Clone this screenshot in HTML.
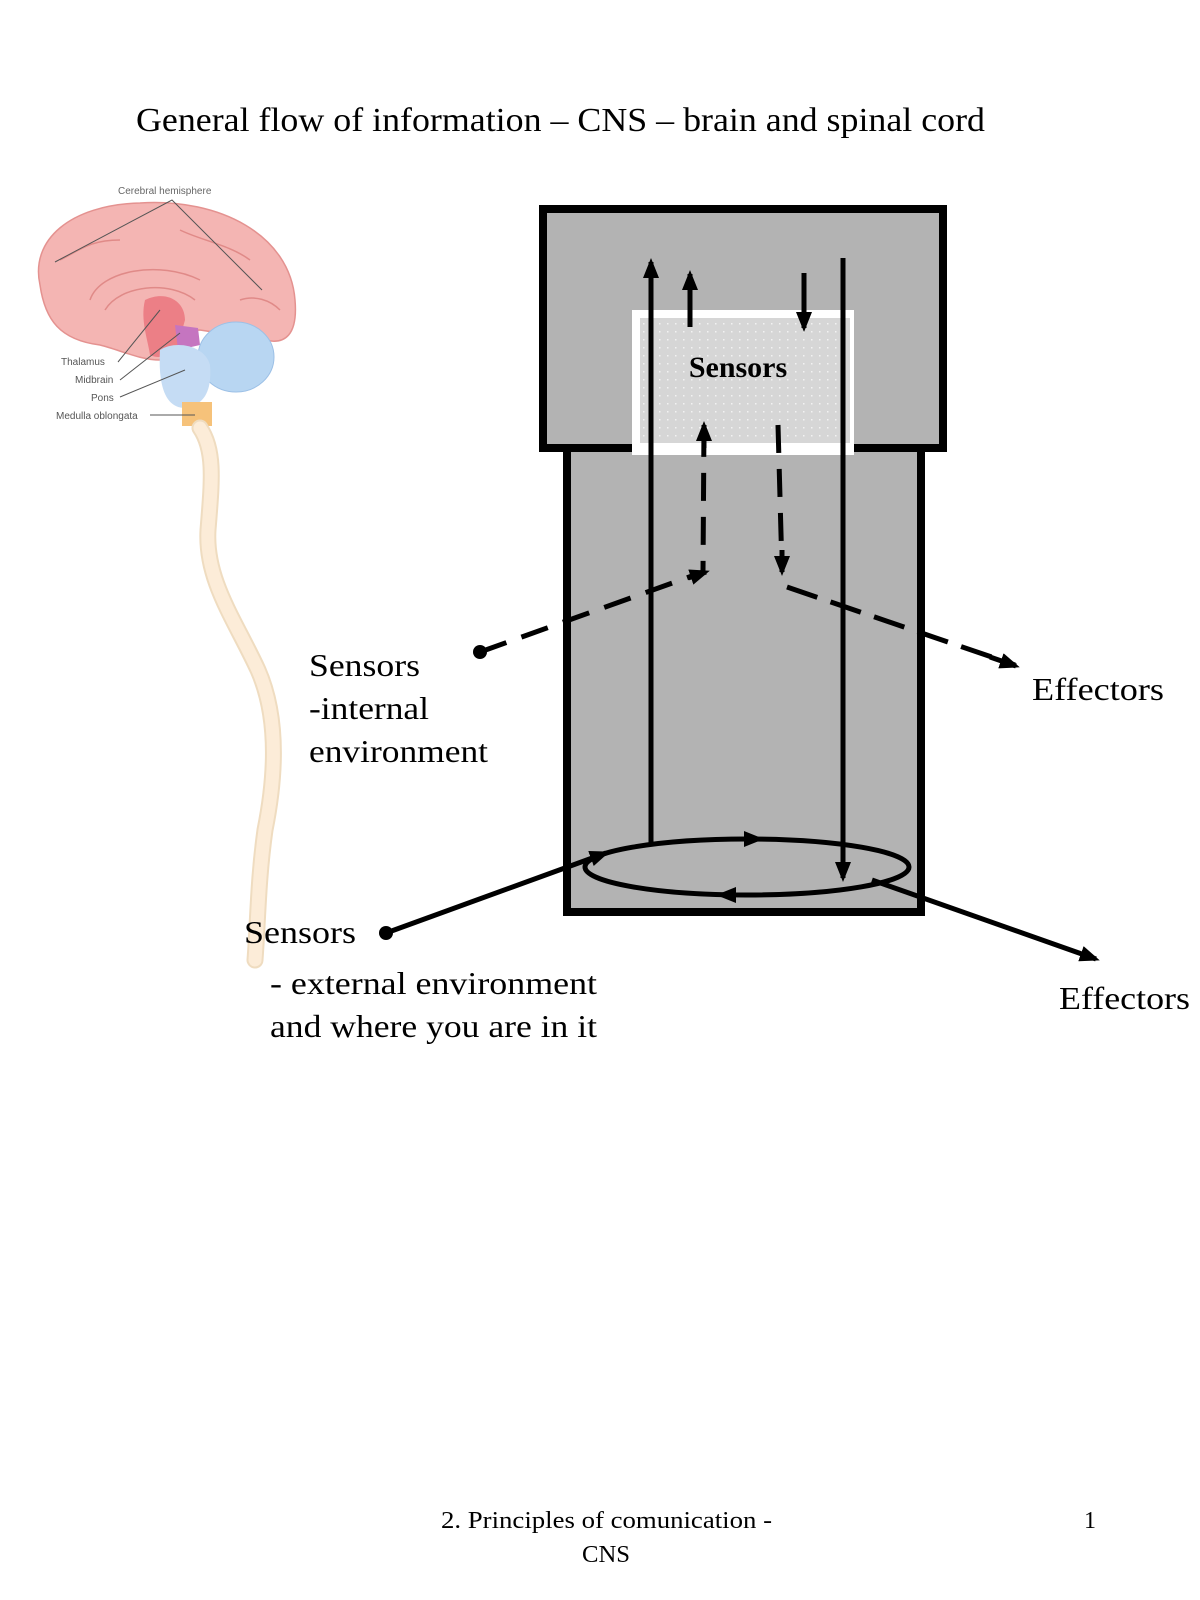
<!DOCTYPE html>
<html><head><meta charset="utf-8"><style>
html,body{margin:0;padding:0;background:#fff;}
svg{display:block;}
text{font-family:"Liberation Serif",serif;fill:#000;}
</style></head><body>
<svg width="1200" height="1600" viewBox="0 0 1200 1600" xmlns="http://www.w3.org/2000/svg">
<defs>
<pattern id="dots" width="8" height="8" patternUnits="userSpaceOnUse">
<rect width="8" height="8" fill="#d6d6d6"/><rect x="3" y="3" width="1.5" height="1.5" fill="#f2f2f2"/>
</pattern>
<marker id="ahb" markerWidth="20" markerHeight="16" refX="16" refY="8" orient="auto" markerUnits="userSpaceOnUse" viewBox="0 0 20 16">
<path d="M0,0 L20,8 L0,16 z" fill="#000"/></marker>
</defs>

<text x="136" y="131" font-size="34" textLength="849" lengthAdjust="spacingAndGlyphs">General flow of information – CNS – brain and spinal cord</text>

<!-- brain -->
<text x="118" y="194" style="font-family:'Liberation Sans',sans-serif;font-size:10px;fill:#666">Cerebral hemisphere</text>
<path d="M40,285 C30,240 70,205 140,203 C220,198 290,235 295,300 C298,335 285,345 265,340 L200,330 C175,330 165,345 160,360 C140,360 120,350 100,345 C60,340 45,320 40,285 z" fill="#f4b5b3" stroke="#e49290" stroke-width="1.5"/>
<path d="M90,300 C100,270 160,260 200,280 M105,310 C120,285 170,280 195,300 M60,260 C80,250 90,240 120,240 M180,230 C200,240 230,245 250,260 M240,300 C255,295 270,300 280,310" stroke="#e08a88" stroke-width="1.5" fill="none"/>
<path d="M145,300 C165,290 185,300 185,320 L178,345 C172,355 160,360 150,355 C148,340 140,320 145,300 z" fill="#ec7f86"/>
<path d="M175,325 L198,328 L200,345 L178,350 z" fill="#c575c0"/>
<ellipse cx="236" cy="357" rx="38" ry="35" fill="#b8d6f2" stroke="#9cc0e6"/>
<path d="M160,350 C175,340 205,345 210,365 C212,390 205,405 185,408 C165,408 158,385 160,350 z" fill="#c5dcf4"/>
<rect x="182" y="402" width="30" height="24" fill="#f6c27a"/>
<path d="M55,262 L172,200 L262,290" stroke="#555" stroke-width="1" fill="none"/>
<path d="M118,362 L160,310 M120,380 L180,333 M120,397 L185,370 M150,415 L195,415" stroke="#555" stroke-width="1" fill="none"/>
<text x="61" y="365" style="font-family:'Liberation Sans',sans-serif;font-size:10px;fill:#555">Thalamus</text>
<text x="75" y="383" style="font-family:'Liberation Sans',sans-serif;font-size:10px;fill:#555">Midbrain</text>
<text x="91" y="401" style="font-family:'Liberation Sans',sans-serif;font-size:10px;fill:#555">Pons</text>
<text x="56" y="419" style="font-family:'Liberation Sans',sans-serif;font-size:10px;fill:#555">Medulla oblongata</text>
<path d="M200,428 C215,450 212,480 208,530 C205,580 235,620 258,670 C280,720 275,780 265,830 C258,880 258,920 255,960" stroke="#efdcc0" stroke-width="17" fill="none" stroke-linecap="round"/>
<path d="M200,428 C215,450 212,480 208,530 C205,580 235,620 258,670 C280,720 275,780 265,830 C258,880 258,920 255,960" stroke="#fcecd8" stroke-width="13" fill="none" stroke-linecap="round"/>

<!-- CNS box -->
<rect x="567" y="440" width="354" height="472" fill="#b3b3b3" stroke="#000" stroke-width="8"/>
<rect x="543" y="209" width="400" height="239" fill="#b3b3b3" stroke="#000" stroke-width="8"/>
<rect x="632" y="310" width="222" height="145" fill="#fff"/>
<rect x="640" y="318" width="210" height="125" fill="url(#dots)"/>
<text x="738" y="377" font-size="30" font-weight="bold" text-anchor="middle">Sensors</text>

<line x1="651" y1="843" x2="651" y2="262" stroke="#000" stroke-width="5" marker-end="url(#ahb)"/>
<line x1="843" y1="258" x2="843" y2="878" stroke="#000" stroke-width="5" marker-end="url(#ahb)"/>
<line x1="690" y1="327" x2="690" y2="274" stroke="#000" stroke-width="5" marker-end="url(#ahb)"/>
<line x1="804" y1="273" x2="804" y2="328" stroke="#000" stroke-width="5" marker-end="url(#ahb)"/>

<path d="M480,652 L703,572 L704,425" stroke="#000" stroke-width="5" fill="none" stroke-dasharray="28,16" />
<path d="M704,448 L704,425" stroke="#000" stroke-width="5" marker-end="url(#ahb)"/>
<path d="M688,578 L706,572" stroke="#000" stroke-width="5" marker-end="url(#ahb)"/>
<circle cx="480" cy="652" r="7" fill="#000"/>
<path d="M778,425 L782,570" stroke="#000" stroke-width="5" fill="none" stroke-dasharray="28,16"/>
<path d="M782,550 L782,572" stroke="#000" stroke-width="5" marker-end="url(#ahb)"/>
<path d="M787,587 L1015,665" stroke="#000" stroke-width="5" fill="none" stroke-dasharray="32,14"/>
<path d="M990,657 L1016,666" stroke="#000" stroke-width="5" marker-end="url(#ahb)"/>

<ellipse cx="747" cy="867" rx="162" ry="28" fill="none" stroke="#000" stroke-width="5"/>
<path d="M745,839 L760,839" stroke="#000" stroke-width="1" marker-end="url(#ahb)"/>
<path d="M735,895 L720,895" stroke="#000" stroke-width="1" marker-end="url(#ahb)"/>

<line x1="386" y1="933" x2="606" y2="853" stroke="#000" stroke-width="5" marker-end="url(#ahb)"/>
<circle cx="386" cy="933" r="7" fill="#000"/>
<line x1="872" y1="880" x2="1096" y2="959" stroke="#000" stroke-width="5" marker-end="url(#ahb)"/>

<text x="309" y="676" font-size="32" textLength="111" lengthAdjust="spacingAndGlyphs">Sensors</text>
<text x="309" y="719" font-size="32" textLength="120" lengthAdjust="spacingAndGlyphs">-internal</text>
<text x="309" y="762" font-size="32" textLength="179" lengthAdjust="spacingAndGlyphs">environment</text>
<text x="1032" y="700" font-size="32" textLength="132" lengthAdjust="spacingAndGlyphs">Effectors</text>
<text x="244" y="943" font-size="32" textLength="112" lengthAdjust="spacingAndGlyphs">Sensors</text>
<text x="270" y="994" font-size="32" textLength="327" lengthAdjust="spacingAndGlyphs">- external environment</text>
<text x="270" y="1037" font-size="32" textLength="327" lengthAdjust="spacingAndGlyphs">and where you are in it</text>
<text x="1059" y="1009" font-size="32" textLength="131" lengthAdjust="spacingAndGlyphs">Effectors</text>

<text x="441" y="1528" font-size="24" textLength="331" lengthAdjust="spacingAndGlyphs">2. Principles of comunication -</text>
<text x="582" y="1562" font-size="24" textLength="48" lengthAdjust="spacingAndGlyphs">CNS</text>
<text x="1084" y="1528" font-size="24">1</text>
</svg>
</body></html>
